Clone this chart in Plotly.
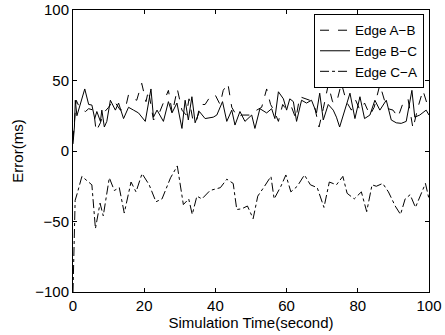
import plotly.graph_objects as go

# Edge A-B (dashed)
t_ab = [0, 0.4, 0.9, 2, 3.5, 4.4, 5.8, 6.5, 7.7, 8.6, 10, 11.4, 13.3, 14.7, 15.6, 17, 17.9, 19.3, 20.5, 21.2,
        22.6, 24, 25.4, 26.8, 27.9, 29.3, 30.6, 31.8, 32.6, 33.6, 34.6, 35.7, 37.1, 38.5, 39.9, 41.3, 42.2,
        43.5, 44.6, 46.2, 47.4, 48.8, 50.2, 51.6, 53, 54.4, 55.5, 56.4, 57.7, 58.9, 60, 61.4, 62.6, 63.7,
        65.1, 66.5, 67.9, 69.1, 70.3, 71.7, 72.9, 74, 75.4, 76.8, 78.2, 79.4, 80.6, 81.9, 83.4, 84.6, 86.2,
        87.6, 88.5, 89.9, 91.3, 92.7, 94.1, 95.5, 96.9, 98.3, 100]
v_ab = [8, 22, 36, 30, 28, 30, 29, 14, 20, 27, 31, 36, 29, 30, 40, 37, 36, 48, 35, 43,
        22, 25.5, 35, 43, 27, 44, 29, 25.5, 37, 23, 20, 33, 33, 38.5, 40, 33, 43,
        48, 31, 24, 25.5, 25.5, 25.5, 29, 31, 44, 33, 29, 21, 33, 29, 31, 23, 38.5,
        37, 36, 31, 17, 30, 47, 35, 34, 48, 35, 29, 36, 29, 34, 25.5, 31, 47,
        35, 30, 29, 24, 34, 37, 16, 31, 43, 29]

# Edge B-C (solid)
t_bc = [0, 0.4, 0.65, 1.1, 3.3, 4.4, 5.3, 6.1, 6.7, 7.7, 8.1, 8.8, 9.5, 10.5, 11.9, 12.8, 14.2, 15.6, 17, 18.4,
        20.3, 21.9, 22.6, 23.6, 25.4, 26.8, 27.8, 29.2, 30.6, 31.5, 32.4, 33.4, 34.3, 35.5, 37.1, 39.4, 40.4,
        42, 43.2, 44.6, 45.5, 46.9, 48.3, 50.2, 51.1, 52.5, 54.4, 55.8, 56.7, 57.7, 59.1, 60, 60.9, 61.9,
        62.8, 64.2, 65.6, 67, 68.4, 69.3, 70.3, 71.7, 73.1, 74, 74.9, 76.4, 77.8, 79.2, 80.6, 81.9, 83.4,
        84.8, 86.2, 88, 89.4, 90.8, 92.2, 93.6, 95.2, 96, 97.4, 99.2, 100]
v_bc = [5, 17, 36, 25, 44, 33, 32.6, 23, 28, 21, 29, 17, 21, 36, 29, 34, 23, 31, 29, 27,
        21, 44, 24, 29, 21, 35, 27, 34, 16, 36, 22, 38.5, 20, 28, 23, 24, 25.5,
        35, 21, 29, 18.4, 28, 21, 25.5, 16, 30, 27, 30, 23, 42, 37, 29, 37, 35,
        21, 36, 34, 36, 27, 41, 22, 33, 29, 24, 17, 29, 41, 23, 38.5, 23, 25.5,
        36, 29, 36, 22, 20, 19.6, 21, 43, 24, 25.5, 29, 25.5]

# Edge C-A (dash-dot)
t_ca = [0, 0.3, 0.6, 1.2, 2.5, 5.3, 6.3, 7.6, 8.5, 10.2, 11.6, 13, 14.4, 16.3, 17.7, 19.4, 21.4, 23.3, 25,
        27.4, 29.3, 31, 32.5, 33.5, 34.8, 36.2, 38.5, 41.4, 43.2, 45, 46, 47.4, 49, 50.6, 51.9, 53.8, 55.6,
        56.5, 58.4, 59.8, 61.2, 63, 65, 66.7, 68.6, 70.5, 72, 74, 75.8, 77, 79, 81, 82.5, 84, 85.2, 87,
        88.6, 90.5, 92, 93.3, 94.7, 96.2, 97.6, 99, 100]
v_ca = [-100, -60, -35, -30, -18, -24, -55, -37, -46, -19, -28, -26, -44, -22, -29, -16, -24, -36, -34,
        -19, -10.6, -38, -34, -45, -32, -34, -28, -26, -20, -23, -41.5, -41, -39, -48, -32, -25, -18,
        -34, -25, -17, -29, -25, -17, -24, -26, -40, -22, -24, -18, -30, -34, -29, -43, -24, -25, -23,
        -29, -39, -45, -34, -31, -40, -32, -23, -34]

x_ticks = [0, 20, 40, 60, 80, 100]
y_ticks = [-100, -50, 0, 50, 100]

fig = go.Figure()
line_w = 1
fig.add_trace(go.Scatter(x=t_ab, y=v_ab, mode="lines", name="Edge A\u2212B",
                         line=dict(color="black", width=line_w, dash="dash")))
fig.add_trace(go.Scatter(x=t_bc, y=v_bc, mode="lines", name="Edge B\u2212C",
                         line=dict(color="black", width=line_w)))
fig.add_trace(go.Scatter(x=t_ca, y=v_ca, mode="lines", name="Edge C\u2212A",
                         line=dict(color="black", width=line_w, dash="dashdot")))

font = dict(family="Liberation Sans, Arial, Helvetica, sans-serif", size=15, color="black")
axis_common = dict(showgrid=False, zeroline=False, showline=True, linecolor="black", linewidth=1,
                   mirror="ticks", ticks="inside", ticklen=4, tickcolor="black", tickwidth=1,
                   tickfont=font, automargin=False)

fig.update_layout(
    width=445, height=335,
    margin=dict(l=73, r=16, t=10, b=43),
    paper_bgcolor="white", plot_bgcolor="white",
    font=font,
    showlegend=True,
    legend=dict(x=0.986, y=0.986, xanchor="right", yanchor="top",
                bgcolor="white", bordercolor="black", borderwidth=1,
                font=dict(family=font["family"], size=13.5, color="black"),
                tracegroupgap=0, itemwidth=30),
    xaxis=dict(range=[0, 100], tickvals=x_ticks, ticktext=[str(v) for v in x_ticks],
               title=dict(text="Simulation Time(second)", font=font, standoff=0), **axis_common),
    yaxis=dict(range=[-100, 100], tickvals=y_ticks,
               ticktext=[str(v).replace("-", "\u2212") for v in y_ticks],
               title=dict(text="Error(ms)", font=font, standoff=7), **axis_common),
)

fig.write_html("out.html", config={"displayModeBar": False},
               post_script="document.body.style.margin='0px';")
